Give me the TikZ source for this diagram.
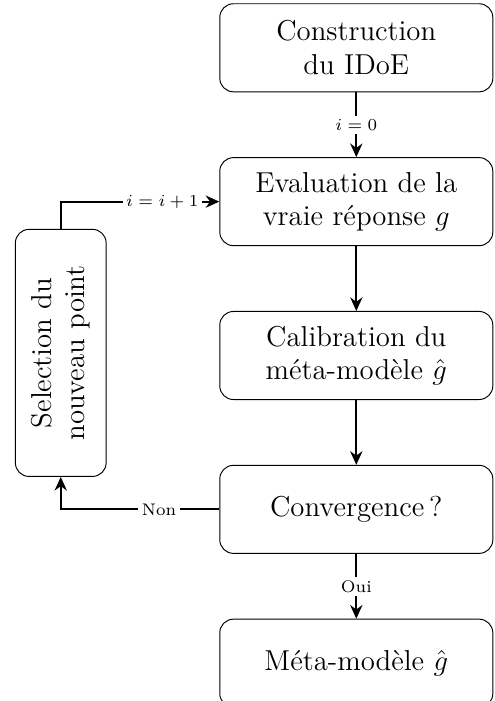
\documentclass[tikz,border=0pt]{standalone}
\usetikzlibrary{positioning,arrows.meta}

\tikzset{
    stepbox/.style={rectangle, rounded corners=0.2cm, draw, align=center, minimum width=4cm, minimum height=1.29cm, font=\large},
    flow/.style={-{Stealth[length=2mm,width=1.8mm]}, thick},
    lbl/.style={fill=white, font=\scriptsize, inner sep=1.5pt}
}

\begin{document}
\begin{tikzpicture}
    \useasboundingbox (0,0) rectangle (7.24,-10.27);

    \node[stepbox] (doe) at (5.22,-0.70) {Construction\\du IDoE};
    \node[stepbox, below=0.95cm of doe] (eval) {Evaluation de la\\vraie réponse $g$};
    \node[stepbox, below=0.95cm of eval] (calib) {Calibration du\\méta-modèle $\hat{g}$};
    \node[stepbox, below=0.95cm of calib] (conv) {Convergence\,?};
    \node[stepbox, below=0.95cm of conv] (meta) {Méta-modèle $\hat{g}$};

    \node[stepbox, rotate=90, minimum width=3.62cm, minimum height=1.33cm] (sel) at (0.89,-5.17) {Selection du\\nouveau point};

    \draw[flow] (doe.south) -- node[lbl] {$i=0$} (eval.north);
    \draw[flow] (eval.south) -- (calib.north);
    \draw[flow] (calib.south) -- (conv.north);
    \draw[flow] (conv.south) -- node[lbl] {Oui} (meta.north);
    \draw[flow] (conv.west) -| node[lbl, pos=0.19] {Non} (sel.west);
    \draw[flow] (sel.east) |- node[lbl, pos=0.82] {$i=i+1$} (eval.west);
\end{tikzpicture}
\end{document}
